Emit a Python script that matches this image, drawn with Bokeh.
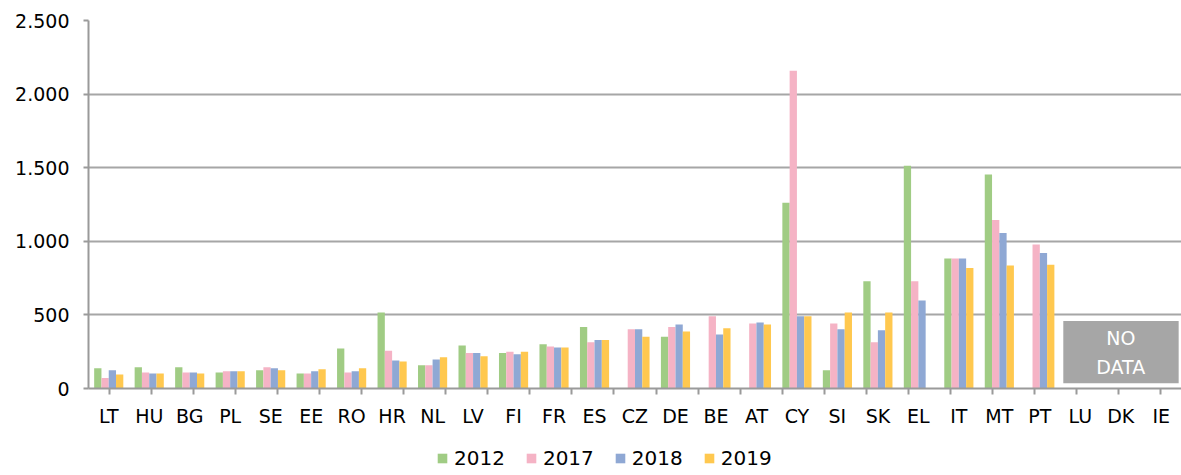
import numpy as np
from bokeh.plotting import figure
from bokeh.layouts import column
from bokeh.models import (ColumnDataSource, FactorRange, Range1d, CategoricalAxis,
                          Legend, LegendItem, BoxAnnotation, Label, FixedTicker)
from bokeh.transform import dodge
from bokeh.embed import file_html
from bokeh.resources import INLINE

nan = np.nan
countries = ["LT", "HU", "BG", "PL", "SE", "EE", "RO", "HR", "NL", "LV", "FI", "FR", "ES", "CZ",
             "DE", "BE", "AT", "CY", "SI", "SK", "EL", "IT", "MT", "PT", "LU", "DK", "IE"]
v2012 = [138, 145, 145, 109, 124, 102, 271, 516, 158, 292, 242, 301, 418, nan,
         351, nan, nan, 1262, 124, 728, 1513, 884, 1454, nan, nan, nan, nan]
v2017 = [72, 109, 109, 118, 145, 102, 109, 256, 158, 242, 249, 285, 314, 403,
         418, 491, 441, 2158, 441, 314, 728, 884, 1145, 979, nan, nan, nan]
v2018 = [124, 102, 109, 118, 138, 118, 118, 190, 197, 242, 233, 278, 330, 403,
         434, 366, 448, 491, 403, 396, 597, 884, 1056, 921, nan, nan, nan]
v2019 = [95, 102, 102, 118, 124, 131, 138, 183, 213, 219, 249, 278, 330, 351,
         387, 409, 434, 491, 516, 516, nan, 819, 835, 841, nan, nan, nan]
years = ["2012", "2017", "2018", "2019"]
colors = ["#A0CC84", "#F5B3C5", "#8FA8D4", "#FFC84F"]
y_ticks = [0, 500, 1000, 1500, 2000, 2500]
y_labels = ["0", "500", "1.000", "1.500", "2.000", "2.500"]

FONT = "DejaVu Sans"
GRID = "#a6a6a6"
AXIS = "#9a9a9a"

src = ColumnDataSource(dict(country=countries,
                            y2012=np.array(v2012, dtype=float),
                            y2017=np.array(v2017, dtype=float),
                            y2018=np.array(v2018, dtype=float),
                            y2019=np.array(v2019, dtype=float)))

p = figure(x_range=FactorRange(factors=countries), y_range=Range1d(0, 2500),
           width=1181, height=440, output_backend="svg", toolbar_location=None,
           x_axis_location=None, min_border_left=88, min_border_right=0,
           min_border_top=20, min_border_bottom=52)
p.outline_line_color = None
p.xgrid.grid_line_color = None
p.ygrid.grid_line_color = GRID
p.ygrid.grid_line_width = 2
p.ygrid.ticker = FixedTicker(ticks=y_ticks)

yax = p.yaxis[0]
yax.ticker = FixedTicker(ticks=y_ticks, minor_ticks=[])
yax.major_label_overrides = {t: l for t, l in zip(y_ticks, y_labels)}
yax.axis_line_color = AXIS
yax.axis_line_width = 2
yax.major_tick_line_color = AXIS
yax.major_tick_line_width = 2
yax.major_tick_in = 0
yax.major_tick_out = 5
yax.minor_tick_line_color = None
yax.major_label_standoff = 14
yax.major_label_text_font = FONT
yax.major_label_text_font_size = "19px"
yax.major_label_text_color = "#000000"

# separator ticks between categories: a factor range shifted by half a category
boundaries = ["b%d" % i for i in range(len(countries) + 1)]
p.extra_x_ranges = {"sep": FactorRange(factors=boundaries, range_padding=-1, range_padding_units="absolute")}
sep_axis = CategoricalAxis(x_range_name="sep",
                           major_label_text_font_size="0px", major_label_text_color=None,
                           major_label_standoff=0,
                           major_tick_in=0, major_tick_out=6, major_tick_line_color=AXIS, major_tick_line_width=2,
                           axis_line_color=AXIS, axis_line_width=2, minor_tick_line_color=None)
p.add_layout(sep_axis, "below")

cat_axis = CategoricalAxis(axis_line_color=None, major_tick_line_color=None, minor_tick_line_color=None,
                           major_label_standoff=4, major_label_text_font=FONT,
                           major_label_text_font_size="19px", major_label_text_color="#000000")
p.add_layout(cat_axis, "below")

offsets = [-0.27, -0.09, 0.09, 0.27]
for yr, col, off in zip(years, colors, offsets):
    p.vbar(x=dodge("country", off, range=p.x_range), top="y" + yr, width=0.18, bottom=0,
           source=src, fill_color=col, line_color=None)

box = BoxAnnotation(left=24.08, right=26.93, bottom=36, top=458,
                    fill_color="#a6a6a6", fill_alpha=1, line_color=None)
p.add_layout(box)
for txt, yv in [("NO", 345), ("DATA", 145)]:
    p.add_layout(Label(x=25.5, y=yv, text=txt, text_align="center", text_baseline="middle",
                       text_color="white", text_font=FONT, text_font_size="19px"))

# legend strip below the chart (its frame is aligned with the chart's frame)
lf = figure(width=1181, height=35, output_backend="svg", toolbar_location=None,
            x_range=Range1d(0, 1), y_range=Range1d(0, 1),
            x_axis_location=None, y_axis_location=None,
            min_border_left=0, min_border_right=0, min_border_top=0, min_border_bottom=0)
lf.outline_line_color = None
lf.grid.grid_line_color = None
items = []
for yr, col in zip(years, colors):
    # proxy glyph placed outside the visible range; only its legend swatch shows
    r = lf.vbar(x=[10], top=[10], bottom=[9], width=0.1, fill_color=col, line_color=None)
    items.append(LegendItem(label=yr, renderers=[r]))
legend = Legend(items=items, orientation="horizontal", location=(348, 5),
                glyph_width=12, glyph_height=12, label_standoff=6, spacing=20,
                padding=2, margin=0, border_line_color=None, background_fill_alpha=0,
                label_text_font=FONT, label_text_font_size="20px", label_text_color="#000000")
lf.add_layout(legend)

layout = column(p, lf, spacing=0)
open("out.html", "w").write(file_html(layout, INLINE))
